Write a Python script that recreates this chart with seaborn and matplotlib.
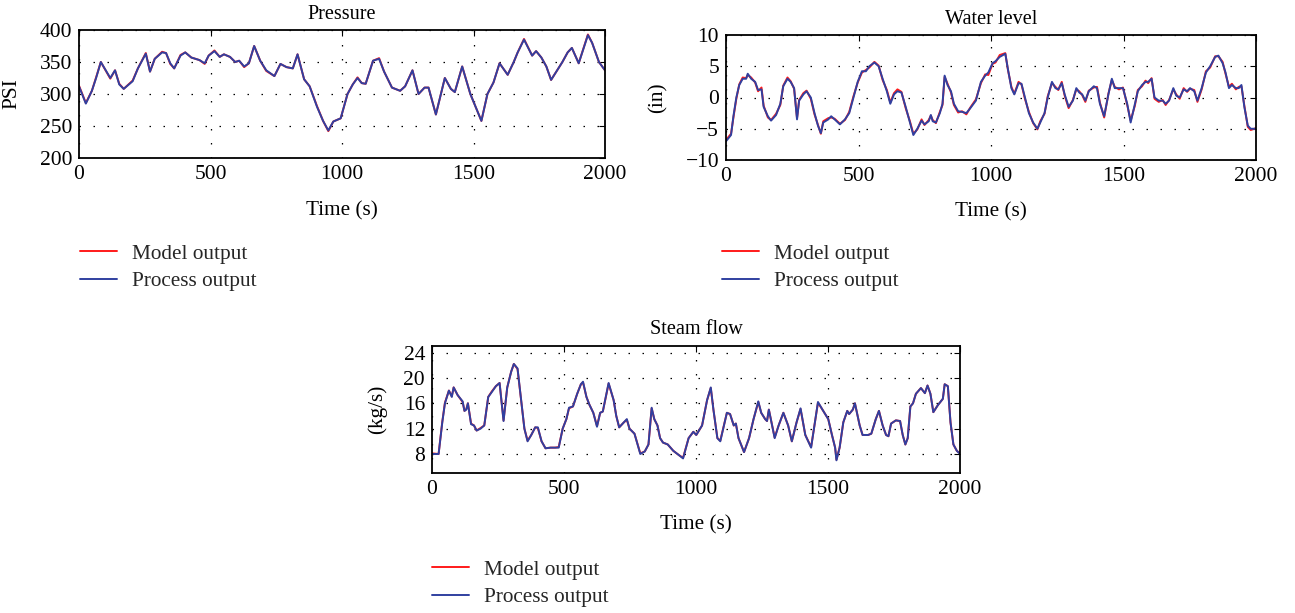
import matplotlib
matplotlib.use("Agg")
import matplotlib.pyplot as plt
import seaborn as sns
import pandas as pd

sns.set_theme(style="white")
plt.rcParams['font.family'] = ['Liberation Serif', 'DejaVu Serif']
plt.rcParams['mathtext.fontset'] = 'stix'

# ---------------- data ----------------
series_names = ["Model output", "Process output"]
colors = {"Model output": "#ff1a1a", "Process output": "#3040a0"}

p_time = [0, 26, 49, 65, 83, 119, 137, 153, 170, 204, 224, 254, 270, 288, 316, 331, 347, 362, 386, 404,
          427, 458, 478, 493, 515, 535, 551, 574, 594, 609, 628, 646, 666, 689, 712, 743, 766, 789, 813, 831,
          856, 877, 905, 928, 948, 967, 995, 1021, 1041, 1059, 1075, 1090, 1118, 1141, 1160, 1190, 1221, 1240, 1268, 1291,
          1314, 1329, 1357, 1391, 1414, 1429, 1457, 1488, 1530, 1553, 1576, 1599, 1630, 1653, 1668, 1692, 1723, 1738, 1758, 1777,
          1795, 1815, 1838, 1858, 1874, 1900, 1935, 1951, 1977, 2000]
p_process = [312, 285, 305, 325, 350, 325, 337, 315, 308, 320, 340, 363, 335, 355, 365, 364, 348, 340, 360, 365,
             357, 353, 348, 360, 367, 358, 362, 358, 350, 352, 343, 348, 375, 352, 337, 328, 347, 342, 340, 362,
             323, 312, 280, 258, 243, 257, 262, 300, 315, 325, 317, 316, 352, 355, 335, 310, 305, 312, 337, 300,
             310, 310, 268, 325, 308, 303, 343, 300, 258, 300, 318, 348, 330, 350, 365, 385, 360, 367, 357, 343,
             322, 335, 350, 365, 372, 348, 392, 380, 350, 337]
p_model = [313, 286, 305, 326, 350, 324, 337, 316, 308, 321, 340, 364, 335, 355, 366, 364, 347, 340, 361, 365,
           357, 353, 347, 360, 368, 358, 362, 358, 350, 352, 342, 348, 375, 352, 336, 328, 347, 342, 340, 362,
           323, 312, 281, 258, 242, 257, 262, 300, 315, 326, 317, 316, 352, 356, 335, 310, 305, 312, 337, 300,
           310, 310, 268, 325, 308, 303, 343, 300, 258, 300, 318, 348, 330, 350, 365, 386, 360, 367, 357, 343,
           322, 335, 350, 365, 372, 348, 393, 380, 350, 337]

w_time = [0, 19, 28, 39, 50, 63, 76, 82, 95, 110, 121, 134, 142, 158, 170, 189, 205, 216, 232, 244,
          257, 268, 276, 292, 304, 320, 334, 347, 358, 367, 386, 397, 410, 430, 449, 465, 481, 497, 513, 528,
          541, 560, 576, 591, 607, 620, 634, 647, 662, 678, 694, 707, 722, 738, 749, 765, 773, 780, 792, 807,
          817, 825, 836, 849, 860, 876, 891, 907, 922, 943, 962, 978, 990, 1006, 1017, 1033, 1054, 1064, 1077, 1088,
          1104, 1115, 1128, 1143, 1159, 1175, 1186, 1202, 1214, 1230, 1243, 1254, 1267, 1278, 1293, 1309, 1322, 1333, 1344, 1356,
          1369, 1388, 1400, 1411, 1427, 1443, 1456, 1467, 1483, 1498, 1514, 1527, 1543, 1554, 1570, 1583, 1593, 1606, 1617, 1633,
          1648, 1659, 1672, 1688, 1699, 1712, 1727, 1740, 1751, 1767, 1779, 1795, 1811, 1827, 1846, 1858, 1874, 1885, 1898, 1909,
          1924, 1935, 1945, 1956, 1969, 1980, 2000]
w_process = [-7.0, -6.0, -3.0, 0.0, 2.0, 3.0, 3.0, 3.8, 3.0, 2.5, 1.2, 1.3, -1.5, -3.0, -3.7, -2.8, -1.0, 1.8, 3.0, 2.5,
             1.5, -3.5, -0.5, 0.5, 1.0, 0.0, -2.5, -4.5, -5.7, -4.0, -3.5, -3.0, -3.5, -4.3, -3.5, -2.5, 0.0, 2.5, 4.2, 4.2,
             5.0, 5.6, 5.0, 3.0, 1.0, -1.0, 0.5, 1.0, 0.8, -1.5, -4.0, -6.0, -5.0, -3.7, -4.3, -3.8, -2.8, -3.8, -4.0, -2.5,
             -1.0, 3.5, 2.0, 1.0, -1.0, -2.2, -2.3, -2.5, -1.7, -0.5, 2.5, 3.5, 4.0, 5.5, 5.8, 6.5, 7.0, 4.5, 1.5, 0.5,
             2.3, 2.2, 0.0, -2.5, -4.0, -5.0, -4.0, -2.5, 0.0, 2.5, 1.5, 1.3, 2.3, 0.5, -1.5, -0.5, 1.5, 0.8, 0.5, -0.5,
             1.0, 1.8, 1.5, -1.0, -3.0, 0.5, 3.0, 1.5, 1.5, 1.5, -1.0, -4.0, -1.0, 1.0, 2.0, 2.5, 2.5, 3.0, 0.0, -0.5,
             -0.5, -1.0, -0.5, 1.5, 0.3, 0.0, 1.3, 1.0, 1.5, 1.0, -0.5, 1.5, 4.0, 5.0, 6.5, 6.7, 5.5, 4.0, 1.5, 2.0,
             1.5, 1.5, 2.0, -1.5, -4.5, -5.0, -5.0]
w_model = [-6.8, -5.8, -3.2, -0.2, 2.1, 3.2, 3.1, 3.6, 3.2, 2.4, 1.0, 1.6, -1.3, -3.2, -3.6, -2.6, -1.2, 1.9, 3.2, 2.6,
           1.4, -3.3, -0.4, 0.7, 1.1, -0.2, -2.7, -4.4, -5.8, -3.8, -3.3, -3.2, -3.4, -4.2, -3.6, -2.3, 0.2, 2.4, 4.0, 4.4,
           4.8, 5.7, 5.1, 2.8, 1.2, -0.8, 0.7, 1.3, 0.9, -1.7, -3.8, -5.8, -5.1, -3.5, -4.4, -3.6, -2.9, -3.6, -4.1, -2.3,
           -1.2, 3.3, 2.2, 0.8, -1.2, -2.4, -2.2, -2.7, -1.6, -0.3, 2.3, 3.7, 3.6, 5.4, 5.6, 6.8, 7.1, 4.4, 1.7, 0.6,
           2.5, 2.1, -0.2, -2.3, -4.1, -5.1, -3.8, -2.6, 0.2, 2.3, 1.7, 1.2, 2.5, 0.3, -1.7, -0.4, 1.3, 1.0, 0.4, -0.7,
           1.1, 1.6, 1.7, -0.8, -3.2, 0.6, 2.8, 1.7, 1.3, 1.6, -1.2, -3.7, -1.3, 1.2, 1.8, 2.7, 2.3, 3.1, -0.2, -0.7,
           -0.4, -1.2, -0.4, 1.3, 0.5, -0.2, 1.5, 0.9, 1.4, 1.2, -0.7, 1.3, 4.2, 4.8, 6.6, 6.6, 5.7, 3.8, 1.7, 2.2,
           1.3, 1.7, 1.8, -1.3, -4.7, -5.2, -4.9]

s_time = [0, 25, 39, 49, 64, 75, 82, 97, 116, 123, 130, 136, 148, 159, 169, 184, 198, 213, 227, 242,
          256, 271, 285, 300, 310, 324, 339, 350, 362, 376, 391, 401, 415, 430, 449, 466, 480, 495, 509, 519,
          534, 550, 564, 572, 585, 596, 611, 625, 637, 647, 669, 688, 698, 709, 727, 738, 748, 767, 789, 806,
          820, 832, 842, 854, 864, 875, 893, 914, 936, 951, 972, 990, 1001, 1023, 1042, 1056, 1066, 1081, 1092, 1117,
          1129, 1143, 1151, 1161, 1182, 1201, 1218, 1236, 1247, 1262, 1269, 1276, 1298, 1313, 1331, 1349, 1363, 1381, 1396, 1414,
          1436, 1462, 1479, 1501, 1515, 1527, 1532, 1544, 1558, 1573, 1580, 1594, 1602, 1620, 1631, 1652, 1664, 1681, 1693, 1707,
          1720, 1729, 1739, 1757, 1773, 1783, 1793, 1802, 1812, 1822, 1833, 1852, 1867, 1877, 1888, 1899, 1916, 1935, 1942, 1954,
          1964, 1975, 1988, 2000]
s_process = [8.0, 8.0, 13.0, 16.0, 18.0, 17.0, 18.5, 17.3, 16.3, 14.8, 15.0, 16.0, 12.7, 12.5, 11.7, 12.0, 12.5, 17.0, 17.8, 18.7,
             19.2, 13.2, 18.5, 21.0, 22.2, 21.5, 16.0, 12.0, 10.0, 11.0, 12.2, 12.2, 10.0, 8.9, 9.0, 9.0, 9.0, 12.0, 13.5, 15.3,
             15.5, 17.5, 19.0, 19.4, 17.0, 15.8, 14.5, 12.3, 14.5, 14.7, 19.2, 16.5, 14.0, 12.2, 13.0, 13.5, 12.0, 11.2, 8.0, 8.4,
             9.5, 15.3, 13.5, 12.5, 10.5, 9.8, 9.5, 8.5, 7.8, 7.3, 10.5, 11.5, 11.0, 12.5, 16.5, 18.5, 15.0, 10.5, 10.0, 14.5,
             14.3, 12.5, 12.8, 10.5, 8.3, 10.5, 13.5, 16.3, 14.5, 13.5, 13.2, 15.0, 10.5, 12.5, 14.5, 12.5, 10.0, 13.0, 15.2, 11.0,
             9.0, 16.2, 15.0, 13.5, 11.0, 9.0, 7.0, 9.0, 13.0, 14.8, 14.3, 15.0, 16.0, 12.5, 11.0, 11.0, 11.2, 13.5, 14.8, 12.5,
             11.0, 10.8, 12.8, 13.3, 13.2, 11.0, 9.5, 10.5, 15.5, 16.0, 17.5, 18.4, 17.6, 18.8, 17.5, 14.6, 15.7, 16.7, 19.0, 18.7,
             13.0, 9.5, 8.5, 8.0]
s_model = [8.1, 8.0, 13.1, 16.1, 18.0, 17.1, 18.5, 17.3, 16.2, 14.8, 15.1, 16.0, 12.8, 12.5, 11.7, 12.1, 12.5, 17.0, 17.9, 18.7,
           19.2, 13.3, 18.5, 21.0, 22.2, 21.4, 16.0, 12.0, 10.1, 11.0, 12.2, 12.1, 10.0, 8.9, 9.0, 9.0, 9.1, 12.0, 13.5, 15.2,
           15.5, 17.5, 19.0, 19.3, 17.0, 15.8, 14.5, 12.4, 14.5, 14.7, 19.1, 16.5, 14.0, 12.2, 13.0, 13.4, 12.0, 11.2, 8.1, 8.4,
           9.5, 15.2, 13.5, 12.5, 10.5, 9.8, 9.5, 8.5, 7.8, 7.4, 10.5, 11.5, 11.0, 12.5, 16.5, 18.4, 15.0, 10.5, 10.1, 14.5,
           14.3, 12.5, 12.8, 10.5, 8.3, 10.5, 13.5, 16.2, 14.5, 13.5, 13.2, 15.0, 10.6, 12.5, 14.5, 12.5, 10.0, 13.0, 15.1, 11.0,
           9.1, 16.1, 15.0, 13.5, 11.0, 9.0, 7.1, 9.0, 13.0, 14.8, 14.3, 15.0, 16.0, 12.5, 11.0, 11.0, 11.2, 13.5, 14.8, 12.5,
           11.0, 10.8, 12.8, 13.3, 13.2, 11.0, 9.5, 10.5, 15.5, 16.0, 17.5, 18.4, 17.6, 18.8, 17.5, 14.6, 15.7, 16.7, 19.0, 18.7,
           13.0, 9.5, 8.5, 8.1]

x_ticks = [0, 500, 1000, 1500, 2000]
p_yticks = [200, 250, 300, 350, 400]
w_yticks = [-10, -5, 0, 5, 10]
w_yticklabels = ["\u221210", "\u22125", "0", "5", "10"]
s_yticks = [8, 12, 16, 20, 24]


def long_df(t, model, process):
    return pd.DataFrame({
        "Time": list(t) * 2,
        "Value": list(model) + list(process),
        "Series": [series_names[0]] * len(t) + [series_names[1]] * len(t),
    })


W, H = 1295, 613
fig = plt.figure(figsize=(W / 100, H / 100), dpi=100)
FS_TICK = 15.5
FS_LAB = 15.3
FS_TITLE = 14.6


def fr(x0, ytop, x1, ybot):
    return [x0 / W, 1 - ybot / H, (x1 - x0) / W, (ybot - ytop) / H]


def panel(rect, df, title, ylabel, ylim, yticks, yticklabels, ylab_x, leg_xy):
    ax = fig.add_axes(rect)
    sns.lineplot(data=df, x="Time", y="Value", hue="Series", hue_order=series_names,
                 palette=colors, linewidth=1.4, ax=ax, legend=True, estimator=None, sort=False)
    ax.set_xlim(0, 2000)
    ax.set_ylim(*ylim)
    ax.set_xticks(x_ticks)
    ax.set_xticklabels([str(v) for v in x_ticks])
    ax.set_yticks(yticks)
    ax.set_yticklabels(yticklabels)
    ax.tick_params(direction="in", top=True, right=True, length=4, width=0.8,
                   labelsize=FS_TICK, pad=5, colors="black")
    for sp in ax.spines.values():
        sp.set_visible(True)
        sp.set_color("black")
        sp.set_linewidth(1.3)
    ax.grid(True, color="black", linestyle=(0, (1.2, 10)), linewidth=0.9)
    ax.set_title(title, fontsize=FS_TITLE, pad=8, color="black")
    ax.set_xlabel("Time (s)", fontsize=FS_LAB, color="black")
    ax.xaxis.set_label_coords(0.5, -0.335)
    ax.set_ylabel(ylabel, fontsize=FS_LAB, color="black")
    ax.yaxis.set_label_coords(ylab_x, 0.5)
    handles, labels = ax.get_legend_handles_labels()
    ax.legend(handles, labels, loc="upper left", bbox_to_anchor=(leg_xy[0] / W, 1 - leg_xy[1] / H),
              bbox_transform=fig.transFigure, frameon=False, fontsize=FS_LAB, borderpad=0,
              borderaxespad=0, handlelength=1.75, handletextpad=0.7, labelspacing=0.35)
    return ax


panel(fr(79, 30, 605, 158), long_df(p_time, p_model, p_process), "Pressure", "PSI",
      (200, 400), p_yticks, [str(v) for v in p_yticks], -0.11, (80, 244))
panel(fr(726, 35, 1256, 160), long_df(w_time, w_model, w_process), "Water level", "(in)",
      (-10, 10), w_yticks, w_yticklabels, -0.11, (722, 244))
panel(fr(432, 345.6, 960, 473), long_df(s_time, s_model, s_process), "Steam flow", "(kg/s)",
      (5, 25.1), s_yticks, [str(v) for v in s_yticks], -0.085, (432, 560))

fig.savefig("out.png", dpi=100, facecolor="white")
